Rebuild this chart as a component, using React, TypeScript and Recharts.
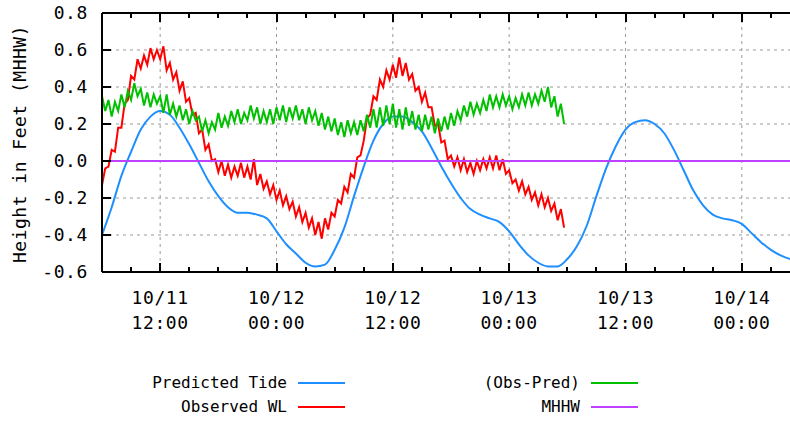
import React from 'react';
import { LineChart, Line, XAxis, YAxis, CartesianGrid } from 'recharts';

// time axis: hours after 10/11 00:00
const X_TICKS = [6, 9, 12, 15, 18, 21, 24, 27, 30, 33, 36, 39, 42, 45, 48, 51, 54, 57, 60, 63, 66, 69, 72, 75, 78];
const MAJOR_HOURS = [12, 24, 36, 48, 60, 72];
const DATE_LABELS = ['10/11', '10/12', '10/12', '10/13', '10/13', '10/14'];
const TIME_LABELS = ['12:00', '00:00', '12:00', '00:00', '12:00', '00:00'];
const Y_TICKS = [-0.6, -0.4, -0.2, 0.0, 0.2, 0.4, 0.6, 0.8];

// predicted tide, hourly from hour 6 to 78
const PRED_HOURS = Array.from({ length: 73 }, (_, i) => 6 + i);
const PREDICTED_TIDE = [
  -0.40, -0.25, -0.08, 0.05, 0.17, 0.24, 0.27, 0.25, 0.18, 0.09,
  -0.01, -0.11, -0.19, -0.25, -0.28, -0.28, -0.29, -0.31, -0.38, -0.45,
  -0.50, -0.55, -0.57, -0.56, -0.48, -0.36, -0.19, -0.03, 0.11, 0.20,
  0.24, 0.24, 0.21, 0.16, 0.07, -0.03, -0.12, -0.20, -0.26, -0.29,
  -0.31, -0.33, -0.38, -0.45, -0.51, -0.55, -0.57, -0.57, -0.53, -0.46,
  -0.35, -0.19, -0.04, 0.08, 0.17, 0.21, 0.22, 0.20, 0.15, 0.06,
  -0.05, -0.16, -0.24, -0.29, -0.31, -0.32, -0.34, -0.39, -0.44, -0.48,
  -0.51, -0.53, -0.54,
];

// observations, every 20 min from hour 6 to 53:40 (one row per hour)
const OBS_HOURS = Array.from({ length: 144 }, (_, i) => 6 + i / 3);
const OBSERVED_WL = [
  -0.13, -0.04, -0.03, 0.06, 0.05, 0.18, 0.18, 0.31, 0.33, 0.46, 0.44, 0.55,
  0.50, 0.57, 0.52, 0.61, 0.55, 0.60, 0.55, 0.62, 0.49, 0.53, 0.44, 0.48,
  0.38, 0.43, 0.32, 0.34, 0.25, 0.26, 0.15, 0.17, 0.06, 0.09, 0.00, 0.01,
  -0.06, 0.00, -0.08, -0.02, -0.09, -0.03, -0.08, -0.01, -0.09, -0.03, -0.10, 0.01,
  -0.13, -0.07, -0.15, -0.11, -0.18, -0.13, -0.21, -0.16, -0.24, -0.19, -0.26, -0.22,
  -0.30, -0.25, -0.33, -0.28, -0.36, -0.31, -0.40, -0.33, -0.42, -0.31, -0.37, -0.28,
  -0.30, -0.21, -0.23, -0.14, -0.17, -0.07, -0.09, 0.02, 0.03, 0.11, 0.23, 0.25,
  0.35, 0.33, 0.44, 0.40, 0.49, 0.44, 0.52, 0.45, 0.56, 0.46, 0.53, 0.44,
  0.47, 0.38, 0.40, 0.32, 0.37, 0.29, 0.29, 0.19, 0.20, 0.10, 0.11, 0.01,
  0.03, -0.03, 0.02, -0.05, 0.01, -0.06, -0.01, -0.07, 0.00, -0.05, 0.01, -0.04,
  0.02, -0.04, 0.03, -0.05, 0.01, -0.07, -0.05, -0.12, -0.10, -0.16, -0.11, -0.18,
  -0.14, -0.21, -0.17, -0.24, -0.18, -0.25, -0.20, -0.27, -0.23, -0.32, -0.26, -0.36,
];
const OBS_MINUS_PRED = [
  0.35, 0.27, 0.33, 0.24, 0.32, 0.27, 0.36, 0.29, 0.38, 0.33, 0.42, 0.35,
  0.39, 0.30, 0.37, 0.29, 0.36, 0.31, 0.35, 0.26, 0.36, 0.25, 0.31, 0.24,
  0.30, 0.22, 0.28, 0.20, 0.27, 0.22, 0.24, 0.16, 0.22, 0.15, 0.21, 0.17,
  0.26, 0.18, 0.24, 0.19, 0.27, 0.21, 0.28, 0.20, 0.26, 0.22, 0.30, 0.23,
  0.29, 0.20, 0.27, 0.21, 0.28, 0.20, 0.29, 0.22, 0.30, 0.21, 0.29, 0.23,
  0.30, 0.22, 0.28, 0.20, 0.29, 0.22, 0.27, 0.19, 0.26, 0.17, 0.24, 0.16,
  0.23, 0.14, 0.21, 0.13, 0.22, 0.15, 0.21, 0.14, 0.22, 0.16, 0.25, 0.18,
  0.28, 0.18, 0.29, 0.19, 0.30, 0.20, 0.31, 0.18, 0.28, 0.17, 0.29, 0.19,
  0.27, 0.17, 0.25, 0.16, 0.25, 0.17, 0.24, 0.15, 0.23, 0.16, 0.24, 0.17,
  0.26, 0.19, 0.27, 0.22, 0.30, 0.24, 0.32, 0.25, 0.31, 0.26, 0.33, 0.27,
  0.36, 0.29, 0.35, 0.29, 0.36, 0.30, 0.35, 0.28, 0.34, 0.29, 0.36, 0.30,
  0.37, 0.30, 0.36, 0.31, 0.38, 0.32, 0.40, 0.29, 0.35, 0.24, 0.31, 0.20,
];

const MHHW_HOURS = [6, 78];
const MHHW = [0, 0];

const SERIES = [
  { key: 'pred', name: 'Predicted Tide', color: '#1e8fff' },
  { key: 'obs', name: 'Observed WL', color: '#ff0000' },
  { key: 'diff', name: '(Obs-Pred)', color: '#00c000' },
  { key: 'mhhw', name: 'MHHW', color: '#c040ff' },
];

const FONT = '"DejaVu Sans Mono", monospace';
const PLOT_H = 259;
const PLOT_W = 698;

// one table keyed by hour, each series only where it has a reading
const ALL_HOURS = Array.from(new Set([...PRED_HOURS, ...OBS_HOURS, ...MHHW_HOURS])).sort((a, b) => a - b);
const chartData = ALL_HOURS.map((h) => {
  const p = PRED_HOURS.indexOf(h);
  const o = OBS_HOURS.indexOf(h);
  const m = MHHW_HOURS.indexOf(h);
  return {
    h,
    pred: p >= 0 ? PREDICTED_TIDE[p] : null,
    obs: o >= 0 ? OBSERVED_WL[o] : null,
    diff: o >= 0 ? OBS_MINUS_PRED[o] : null,
    mhhw: m >= 0 ? MHHW[m] : null,
  };
});

function BottomTick(props: any) {
  const { x, y, payload } = props;
  const idx = MAJOR_HOURS.indexOf(payload.value);
  const len = idx >= 0 ? 9 : 5;
  const cx = Math.round(x) - 1;
  return (
    <g>
      <rect x={cx} y={y - len} width={2} height={len} fill="#000" />
      <rect x={cx} y={y - PLOT_H} width={2} height={len} fill="#000" />
      {idx >= 0 && (
        <text x={x} y={y} textAnchor="middle" fontFamily={FONT} fontSize={18} letterSpacing={0.6} fill="#000">
          <tspan x={x} dy={32}>{DATE_LABELS[idx]}</tspan>
          <tspan x={x} dy={25}>{TIME_LABELS[idx]}</tspan>
        </text>
      )}
    </g>
  );
}

function LeftTick(props: any) {
  const { x, y, payload } = props;
  const isTop = payload.value === Y_TICKS[Y_TICKS.length - 1];
  return (
    <g>
      <rect x={x} y={Math.round(y) - 1} width={isTop ? PLOT_W : 9} height={2} fill="#000" />
      <text x={x - 14} y={y} dy={6} textAnchor="end" fontFamily={FONT} fontSize={18} letterSpacing={0.6} fill="#000">
        {Number(payload.value).toFixed(1)}
      </text>
    </g>
  );
}

export default function App() {
  return (
    <div style={{ position: 'absolute', left: 0, top: 0, width: 790, height: 422, overflow: 'hidden', background: '#fff' }}>
      <LineChart width={820} height={422} data={chartData} margin={{ top: 13, right: 20, bottom: 120, left: 42 }}>
        <CartesianGrid stroke="#999999" strokeDasharray="3 4" verticalValues={MAJOR_HOURS} />
        <XAxis
          dataKey="h"
          type="number"
          domain={[6, 78]}
          ticks={X_TICKS}
          interval={0}
          height={30}
          tickSize={0}
          tickMargin={0}
          tickLine={false}
          tick={(p: any) => <BottomTick {...p} />}
          axisLine={{ stroke: '#000', strokeWidth: 2 }}
        />
        <YAxis
          type="number"
          domain={[-0.6, 0.8]}
          ticks={Y_TICKS}
          interval={0}
          width={60}
          tickSize={0}
          tickMargin={0}
          tickLine={false}
          tick={(p: any) => <LeftTick {...p} />}
          axisLine={{ stroke: '#000', strokeWidth: 2 }}
        />
        {SERIES.map((s) => (
          <Line
            key={s.key}
            dataKey={s.key}
            name={s.name}
            type={s.key === 'pred' ? 'monotone' : 'linear'}
            stroke={s.color}
            strokeWidth={2}
            dot={false}
            activeDot={false}
            connectNulls
            isAnimationActive={false}
          />
        ))}
      </LineChart>
      <div
        style={{
          position: 'absolute',
          left: 20,
          top: 144,
          transform: 'translate(-50%, -50%) rotate(-90deg)',
          whiteSpace: 'nowrap',
          fontFamily: FONT,
          fontSize: 18,
          lineHeight: '20px',
          letterSpacing: 0.5,
          color: '#000',
        }}
      >
        Height in Feet (MHHW)
      </div>
      {SERIES.map((s, i) => {
        const textEnd = i < 2 ? 287 : 580;
        const y = i % 2 === 0 ? 383 : 407;
        return (
          <React.Fragment key={s.key}>
            <div
              style={{
                position: 'absolute',
                right: 790 - textEnd,
                top: y - 10,
                height: 20,
                lineHeight: '20px',
                whiteSpace: 'nowrap',
                fontFamily: FONT,
                fontSize: 16,
                color: '#000',
              }}
            >
              {s.name}
            </div>
            <div style={{ position: 'absolute', left: textEnd + 11, top: y - 1, width: 47, height: 2, background: s.color }} />
          </React.Fragment>
        );
      })}
    </div>
  );
}
